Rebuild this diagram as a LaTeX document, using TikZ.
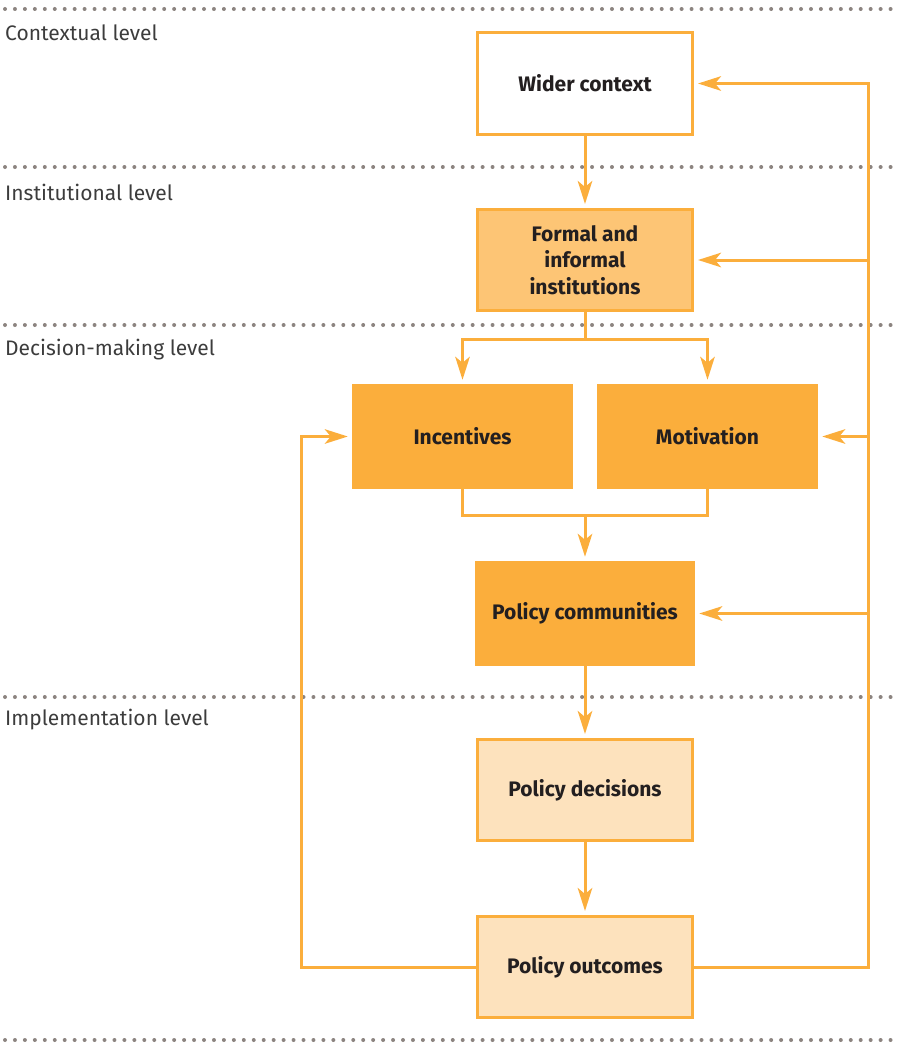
\documentclass[tikz,border=0pt]{standalone}
\usepackage{fontspec}
\setmainfont{Fira Sans}
\usetikzlibrary{arrows.meta}
\definecolor{orng}{HTML}{FBAE3C}
\definecolor{orngmid}{HTML}{FDC575}
\definecolor{orngpale}{HTML}{FDE2BD}
\definecolor{dotgray}{HTML}{8C8480}
\definecolor{boxtext}{HTML}{231F20}
\definecolor{lvltext}{HTML}{3C3C3C}
\begin{document}
\begin{tikzpicture}[x=1pt,y=-1pt,
  box/.style={rectangle, inner sep=0pt, align=center,
    font=\fontsize{21}{26.5}\selectfont\bfseries, text=boxtext},
  framed/.style={box, draw=orng, line width=3pt, minimum width=215pt, minimum height=101pt},
  solidbox/.style={box, fill=orng, minimum width=221pt, minimum height=105pt},
  flow/.style={draw=orng, line width=3pt},
  arr/.style={flow, -{Stealth[length=23pt,width=14.5pt,inset=6pt]}, shorten >=4pt},
  divider/.style={draw=dotgray, line width=4pt, line cap=round, dash pattern=on 0pt off 9.95pt},
  lvl/.style={anchor=west, inner sep=0pt, text=lvltext, font=\fontsize{21}{24}\selectfont}]
\useasboundingbox (0,0) rectangle (903,1049);

% level dividers
\foreach \yy in {9,167,325,697,1040}
  \draw[divider] (5,\yy) -- (898,\yy);

% level names
\node[lvl] (l1) at (5,33) {Contextual level};
\node[lvl] (l2) at (5,192) {Institutional level};
\node[lvl] (l3) at (5,350) {Decision-making level};
\node[lvl] (l4) at (5,720) {Implementation level};

% boxes
\node[framed, fill=white] (wider) at (585,83.5) {Wider context};
\node[framed, fill=orngmid] (formal) at (585,260) {Formal and\\informal\\institutions};
\node[solidbox] (incent) at (462.5,436.5) {Incentives};
\node[solidbox] (motiv) at (707.5,436.5) {Motivation};
\node[solidbox, minimum width=220pt] (comm) at (585,613.5) {Policy communities};
\node[framed, fill=orngpale] (dec) at (585,790) {Policy decisions};
\node[framed, fill=orngpale] (out) at (585,967) {Policy outcomes};

% junctions and bends
\coordinate (split) at (585,339);
\coordinate (merge) at (585,515);
\coordinate (rbend) at (868,83.5);
\coordinate (lbend) at (301,436.5);

% main flow
\draw[arr] (wider) -- (formal);
\draw[flow] (formal.south) -- (split);
\draw[arr] (split) -| (incent.north);
\draw[arr] (split) -| (motiv.north);
\draw[flow] (incent.south) |- (merge);
\draw[flow] (motiv.south) |- (merge);
\draw[arr] (merge) -- (comm);
\draw[arr] (comm) -- (dec);
\draw[arr] (dec) -- (out);

% feedback loops
\draw[arr] (out.east) -| (rbend) -- (wider.east);
\draw[arr] (formal.east -| rbend) -- (formal.east);
\draw[arr] (motiv.east -| rbend) -- (motiv.east);
\draw[arr] (comm.east -| rbend) -- (comm.east);
\draw[arr] (out.west) -| (lbend) -- (incent.west);
\end{tikzpicture}
\end{document}
